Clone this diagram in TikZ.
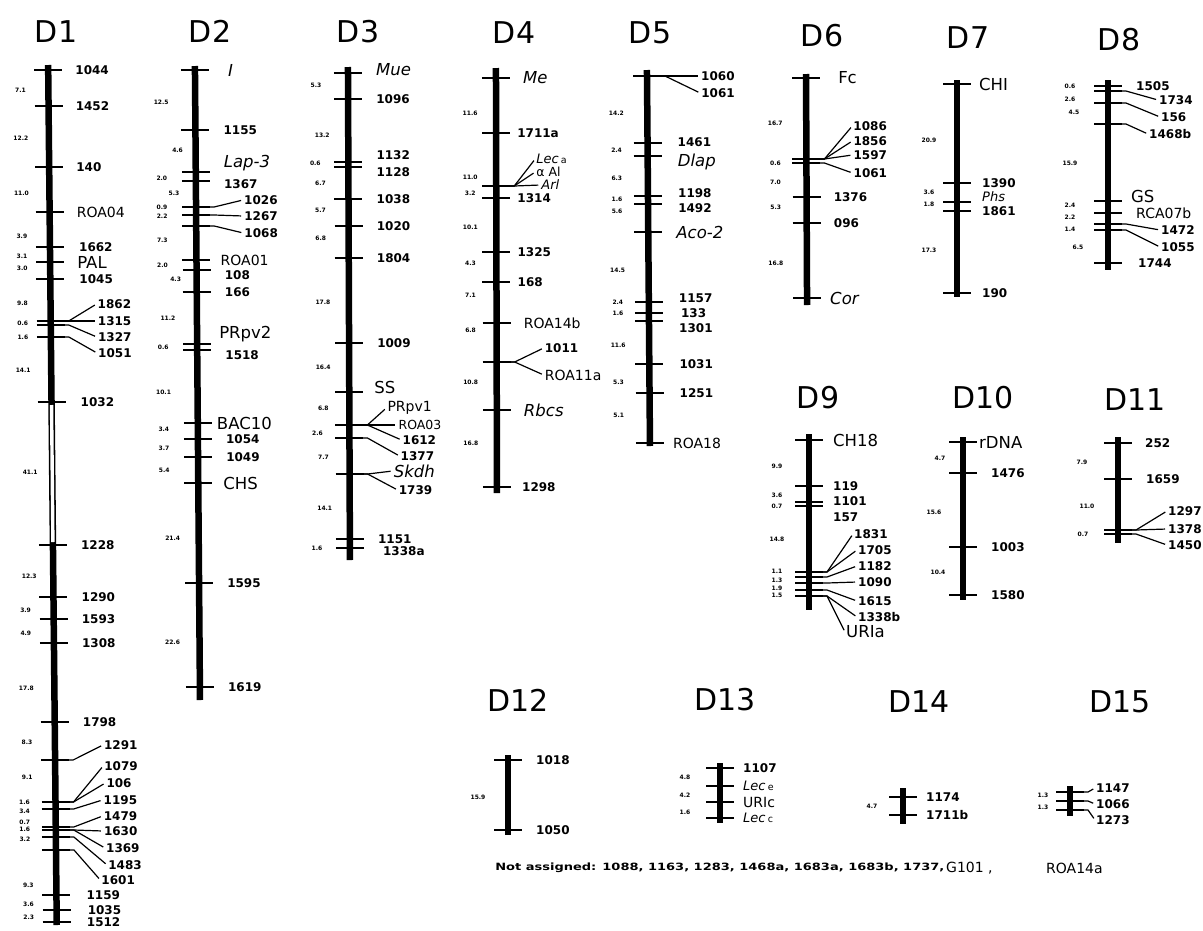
\documentclass[tikz,border=0pt]{standalone}
\usepackage{fontspec}
\setmainfont{DejaVu Sans}
\usepackage{tikz}
\usetikzlibrary{positioning}

% fonts of the map
\newcommand{\lblfont}{\fontsize{12}{12}\selectfont\bfseries}
\newcommand{\bigfont}{\fontsize{16.5}{16.5}\selectfont}
\newcommand{\roafont}{\fontsize{14}{14}\selectfont}
\newcommand{\smlfont}{\fontsize{12.5}{12.5}\selectfont}
\newcommand{\itfont}{\fontsize{16.5}{16.5}\selectfont\itshape}
\newcommand{\itsmfont}{\fontsize{13}{13}\selectfont\itshape}
\newcommand{\dstfont}{\fontsize{6}{6}\selectfont\bfseries}
\newcommand{\ttlfont}{\fontsize{30}{30}\selectfont}
\newcommand{\footfont}{\fontsize{10}{10}\selectfont\bfseries}
\newcommand{\subl}[1]{\,{\upshape\fontsize{9.5}{9.5}\selectfont #1}}

% helpers, used inside one linkage group scope
\def\lblx{25}
\def\dstx{-28}
\newcounter{dn}
\newcommand{\tk}[1]{\draw[tick] (-14,#1) -- (14,#1);}
\newcommand{\lb}[5][\lblx]{\node[#2] (#3) at (#1,#4) {#5};}
\newcommand{\mk}[5][\lblx]{\tk{#4}\lb[#1]{#2}{#3}{#4}{#5}}
\newcommand{\fan}[2]{\draw[fan] (10,#2) -- (18,#2) -- (#1.west);}
\newcommand{\dst}[3][\dstx]{\stepcounter{dn}\node[dst] (dst\thedn) at (#1,#2) {#3};}

\begin{document}
\begin{tikzpicture}[x=1pt, y=-1pt,
    bar/.style={line width=6.5pt},
    tick/.style={line width=1.8pt},
    fan/.style={line width=1.2pt, shorten >=2pt},
    lbl/.style={font=\lblfont, anchor=west, inner sep=1pt},
    big/.style={font=\bigfont, anchor=west, inner sep=1pt},
    roa/.style={font=\roafont, anchor=west, inner sep=1pt},
    sml/.style={font=\smlfont, anchor=west, inner sep=1pt},
    ital/.style={font=\itfont, anchor=west, inner sep=1pt},
    itsm/.style={font=\itsmfont, anchor=west, inner sep=1pt},
    dst/.style={font=\dstfont, inner sep=0pt},
    ttl/.style={font=\ttlfont, inner sep=0pt},
    foot/.style={font=\footfont, anchor=west, inner sep=0pt}
]
\path[fill=white, use as bounding box] (0,0) rectangle (1203,930);

% =========================
% TITLES
% =========================
\node[ttl] (D1) at (56,32) {D1};
\node[ttl] (D2) at (210,31) {D2};
\node[ttl] (D3) at (358,32) {D3};
\node[ttl] (D4) at (514,33) {D4};
\node[ttl] (D5) at (650,33) {D5};
\node[ttl] (D6) at (822,36) {D6};
\node[ttl] (D7) at (968,38) {D7};
\node[ttl] (D8) at (1119,40) {D8};
\node[ttl] (D9) at (818,398) {D9};
\node[ttl] (D10) at (983,398) {D10};
\node[ttl] (D11) at (1135,400) {D11};
\node[ttl] (D12) at (518,700) {D12};
\node[ttl] (D13) at (725,700) {D13};
\node[ttl] (D14) at (919,702) {D14};
\node[ttl] (D15) at (1120,702) {D15};

% =========================
% D1
% =========================
\begin{scope}[shift={(47.5,0)}, xslant=-0.01]
\def\lblx{26}\def\dstx{-28}
\draw[bar] (0,65) -- (0,925);
\draw[line width=3.4pt, white] (0,405) -- (0,542);
\mk{lbl}{d1-1044}{70}{1044}
\mk{lbl}{d1-1452}{106}{1452}
\mk{lbl}{d1-140}{167}{140}
\mk{roa}{d1-roa04}{212}{ROA04}
\mk[28]{lbl}{d1-1662}{247}{1662}
\mk{big}{d1-pal}{262}{PAL}
\mk[28]{lbl}{d1-1045}{279}{1045}
\tk{321}\tk{325}\tk{337}
\lb[46]{lbl}{d1-1862}{304}{1862}\fan{d1-1862}{321}
\lb[46]{lbl}{d1-1315}{321}{1315}\fan{d1-1315}{321}
\lb[46]{lbl}{d1-1327}{337}{1327}\fan{d1-1327}{325}
\lb[46]{lbl}{d1-1051}{353}{1051}\fan{d1-1051}{337}
\mk[28]{lbl}{d1-1032}{402}{1032}
\mk[27]{lbl}{d1-1228}{545}{1228}
\mk[27]{lbl}{d1-1290}{597}{1290}
\mk[27]{lbl}{d1-1593}{619}{1593}
\mk[27]{lbl}{d1-1308}{643}{1308}
\mk[27]{lbl}{d1-1798}{722}{1798}
\tk{760}
\lb[48]{lbl}{d1-1291}{745}{1291}\fan{d1-1291}{760}
\tk{802}\tk{809}\tk{827}\tk{830}\tk{837}\tk{850}
\lb[48]{lbl}{d1-1079}{766}{1079}\fan{d1-1079}{802}
\lb[50]{lbl}{d1-106}{783}{106}\fan{d1-106}{802}
\lb[47]{lbl}{d1-1195}{800}{1195}\fan{d1-1195}{809}
\lb[47]{lbl}{d1-1479}{816}{1479}\fan{d1-1479}{827}
\lb[47]{lbl}{d1-1630}{831}{1630}\fan{d1-1630}{830}
\lb[49]{lbl}{d1-1369}{848}{1369}\fan{d1-1369}{830}
\lb[51]{lbl}{d1-1483}{865}{1483}\fan{d1-1483}{837}
\lb[44]{lbl}{d1-1601}{880}{1601}\fan{d1-1601}{850}
\mk[29]{lbl}{d1-1159}{895}{1159}
\mk[30]{lbl}{d1-1035}{910}{1035}
\mk[29]{lbl}{d1-1512}{922}{1512}
\dst{90}{7.1}\dst{138}{12.2}\dst{193}{11.0}\dst{236}{3.9}\dst{256}{3.1}
\dst{268}{3.0}\dst{303}{9.8}\dst{323}{0.6}\dst{337}{1.6}\dst{370}{14.1}
\dst[-22]{472}{41.1}\dst[-24]{576}{12.3}\dst{610}{3.9}\dst{633}{4.9}
\dst{688}{17.8}\dst{742}{8.3}\dst{777}{9.1}\dst[-31]{802}{1.6}
\dst[-31]{811}{3.4}\dst[-31]{822}{0.7}\dst[-31]{829}{1.6}\dst[-31]{839}{3.2}
\dst{885}{9.3}\dst{904}{3.6}\dst{917}{2.3}
\end{scope}

% =========================
% D2
% =========================
\begin{scope}[shift={(194.4,0)}, xslant=-0.008]
\def\lblx{27}\def\dstx{-34}
\draw[bar] (0,66) -- (0,700);
\mk[32]{ital}{d2-i}{70}{I}
\mk{lbl}{d2-1155}{130}{1155}
\tk{172}\lb{ital}{d2-lap3}{163}{Lap-3}
\tk{181}\lb{lbl}{d2-1367}{184}{1367}
\tk{207}\tk{215}\tk{226}
\lb[47]{lbl}{d2-1026}{200}{1026}\fan{d2-1026}{207}
\lb[47]{lbl}{d2-1267}{216}{1267}\fan{d2-1267}{215}
\lb[47]{lbl}{d2-1068}{233}{1068}\fan{d2-1068}{226}
\mk[23]{roa}{d2-roa01}{260}{ROA01}
\tk{270}\lb{lbl}{d2-108}{275}{108}
\mk{lbl}{d2-166}{292}{166}
\tk{344}\tk{350}
\lb[21]{big}{d2-prpv2}{334}{PRpv2}
\lb{lbl}{d2-1518}{355}{1518}
\mk[18]{big}{d2-bac10}{423}{BAC10}
\mk{lbl}{d2-1054}{439}{1054}
\mk{lbl}{d2-1049}{457}{1049}
\mk[24]{big}{d2-chs}{483}{CHS}
\mk{lbl}{d2-1595}{583}{1595}
\mk{lbl}{d2-1619}{687}{1619}
\dst{102}{12.5}\dst[-18]{150}{4.6}\dst{178}{2.0}\dst[-22]{193}{5.3}
\dst{207}{0.9}\dst{216}{2.2}\dst{240}{7.3}\dst{265}{2.0}\dst[-21]{279}{4.3}
\dst[-29]{318}{11.2}\dst{347}{0.6}\dst{392}{10.1}\dst{429}{3.4}\dst{448}{3.7}
\dst{470}{5.4}\dst[-26]{538}{21.4}\dst[-27]{642}{22.6}
\end{scope}

% =========================
% D3
% =========================
\begin{scope}[shift={(347.7,0)}, xslant=-0.004]
\def\lblx{27}\def\dstx{-28}
\draw[bar] (0,67) -- (0,560);
\tk{73}\lb{ital}{d3-mue}{70}{Mue}
\mk{lbl}{d3-1096}{99}{1096}
\tk{162}\tk{167}
\lb{lbl}{d3-1132}{155}{1132}
\lb{lbl}{d3-1128}{172}{1128}
\mk{lbl}{d3-1038}{199}{1038}
\mk{lbl}{d3-1020}{226}{1020}
\mk{lbl}{d3-1804}{258}{1804}
\mk{lbl}{d3-1009}{343}{1009}
\tk{392}\lb[24]{big}{d3-ss}{387}{SS}
\tk{425}\tk{438}
\lb[37]{roa}{d3-prpv1}{408}{PRpv1}\fan{d3-prpv1}{425}
\lb[48]{sml}{d3-roa03}{425}{ROA03}\fan{d3-roa03}{425}
\lb[52]{lbl}{d3-1612}{440}{1612}\fan{d3-1612}{425}
\lb[50]{lbl}{d3-1377}{456}{1377}\fan{d3-1377}{438}
\tk{474}
\lb[43]{ital}{d3-skdh}{471}{Skdh}\fan{d3-skdh}{474}
\lb[48]{lbl}{d3-1739}{490}{1739}\fan{d3-1739}{474}
\mk{lbl}{d3-1151}{539}{1151}
\tk{548}\lb[32]{lbl}{d3-1338a}{551}{1338a}
\dst[-32]{85}{5.3}\dst[-26]{135}{13.2}\dst[-33]{163}{0.6}\dst{183}{6.7}
\dst{210}{5.7}\dst{238}{6.8}\dst[-26]{302}{17.8}\dst[-26]{367}{16.4}
\dst[-26]{408}{6.8}\dst[-32]{433}{2.6}\dst[-26]{457}{7.7}\dst[-25]{508}{14.1}
\dst[-33]{548}{1.6}
\end{scope}

% =========================
% D4
% =========================
\begin{scope}[shift={(495.8,0)}, xslant=-0.0024]
\def\lblx{20}\def\dstx{-26}
\draw[bar] (0,68) -- (0,493);
\mk[26]{ital}{d4-me}{78}{Me}
\mk{lbl}{d4-1711a}{133}{1711a}
\tk{186}
\lb[39]{itsm}{d4-leca}{159}{Lec\subl{a}}\fan{d4-leca}{186}
\lb[39]{sml}{d4-aal}{172}{α Al}\fan{d4-aal}{186}
\lb[44]{itsm}{d4-arl}{185}{Arl}\fan{d4-arl}{186}
\mk{lbl}{d4-1314}{198}{1314}
\mk{lbl}{d4-1325}{252}{1325}
\mk{lbl}{d4-168}{282}{168}
\mk[26]{roa}{d4-roa14b}{323}{ROA14b}
\tk{362}
\lb[47]{lbl}{d4-1011}{348}{1011}\fan{d4-1011}{362}
\lb[47]{roa}{d4-roa11a}{375}{ROA11a}\fan{d4-roa11a}{362}
\mk[26]{ital}{d4-rbcs}{410}{Rbcs}
\mk[24]{lbl}{d4-1298}{487}{1298}
\dst{113}{11.6}\dst{177}{11.0}\dst{193}{3.2}\dst{227}{10.1}\dst{263}{4.3}
\dst{295}{7.1}\dst{330}{6.8}\dst{382}{10.8}\dst{443}{16.8}
\end{scope}

% =========================
% D5
% =========================
\begin{scope}[shift={(646.4,0)}, xslant=-0.008]
\def\lblx{29}\def\dstx{-31}
\draw[bar] (0,70) -- (0,446);
\tk{76}
\lb[53]{lbl}{d5-1060}{76}{1060}\fan{d5-1060}{76}
\lb[53]{lbl}{d5-1061}{93}{1061}\fan{d5-1061}{76}
\tk{143}\lb{lbl}{d5-1461}{142}{1461}
\tk{156}\lb{ital}{d5-dlap}{162}{Dlap}
\tk{196}\lb{lbl}{d5-1198}{193}{1198}
\tk{204}\lb{lbl}{d5-1492}{208}{1492}
\mk[27]{ital}{d5-aco2}{232}{Aco-2}
\tk{302}\lb{lbl}{d5-1157}{298}{1157}
\mk[31]{lbl}{d5-133}{313}{133}
\tk{321}\lb{lbl}{d5-1301}{328}{1301}
\mk{lbl}{d5-1031}{364}{1031}
\mk{lbl}{d5-1251}{393}{1251}
\mk[22]{roa}{d5-roa18}{443}{ROA18}
\dst{113}{14.2}\dst{150}{2.4}\dst{178}{6.3}\dst{199}{1.6}\dst{211}{5.6}
\dst{270}{14.5}\dst{302}{2.4}\dst{313}{1.6}\dst{345}{11.6}\dst{382}{5.3}
\dst{415}{5.1}
\end{scope}

% =========================
% D6
% =========================
\begin{scope}[shift={(805.7,0)}, xslant=-0.0045]
\def\lblx{26}\def\dstx{-31}
\draw[bar] (0,74) -- (0,305);
\mk[31]{big}{d6-fc}{78}{Fc}
\tk{159}\tk{163}
\lb[46]{lbl}{d6-1086}{126}{1086}\fan{d6-1086}{159}
\lb[46]{lbl}{d6-1856}{141}{1856}\fan{d6-1856}{159}
\lb[46]{lbl}{d6-1597}{155}{1597}\fan{d6-1597}{159}
\lb[46]{lbl}{d6-1061}{173}{1061}\fan{d6-1061}{163}
\mk{lbl}{d6-1376}{197}{1376}
\mk{lbl}{d6-096}{223}{096}
\mk[22]{ital}{d6-cor}{298}{Cor}
\dst{123}{16.7}\dst{163}{0.6}\dst{182}{7.0}\dst{207}{5.3}\dst{263}{16.8}
\end{scope}

% =========================
% D7
% =========================
\begin{scope}[shift={(957,0)}]
\def\lblx{24}\def\dstx{-28}
\draw[bar] (0,80) -- (0,297);
\mk[21]{big}{d7-chi}{84}{CHI}
\mk{lbl}{d7-1390}{183}{1390}
\tk{202}\lb{itsm}{d7-phs}{197}{Phs}
\tk{211}\lb{lbl}{d7-1861}{211}{1861}
\mk{lbl}{d7-190}{293}{190}
\dst{140}{20.9}\dst{192}{3.6}\dst{204}{1.8}\dst{250}{17.3}
\end{scope}

% =========================
% D8
% =========================
\begin{scope}[shift={(1108,0)}]
\def\lblx{27}\def\dstx{-38}
\draw[bar] (0,80) -- (0,270);
\tk{86}\tk{91}\tk{103}\tk{124}
\lb{lbl}{d8-1505}{86}{1505}
\lb[50]{lbl}{d8-1734}{100}{1734}\fan{d8-1734}{91}
\lb[52]{lbl}{d8-156}{117}{156}\fan{d8-156}{103}
\lb[40]{lbl}{d8-1468b}{134}{1468b}\fan{d8-1468b}{124}
\tk{201}\lb[22]{big}{d8-gs}{196}{GS}
\mk{roa}{d8-rca07b}{213}{RCA07b}
\tk{224}\tk{230}
\lb[52]{lbl}{d8-1472}{230}{1472}\fan{d8-1472}{224}
\lb[52]{lbl}{d8-1055}{247}{1055}\fan{d8-1055}{230}
\mk[29]{lbl}{d8-1744}{263}{1744}
\dst{86}{0.6}\dst{99}{2.6}\dst[-34]{112}{4.5}\dst{163}{15.9}\dst{205}{2.4}
\dst{217}{2.2}\dst{229}{1.4}\dst[-30]{247}{6.5}
\end{scope}

% =========================
% D9
% =========================
\begin{scope}[shift={(809,0)}]
\def\lblx{23}\def\dstx{-32}
\draw[bar] (0,434) -- (0,610);
\mk{big}{d9-ch18}{440}{CH18}
\mk{lbl}{d9-119}{486}{119}
\tk{502}\tk{506}
\lb{lbl}{d9-1101}{501}{1101}
\lb{lbl}{d9-157}{517}{157}
\tk{572}\tk{577}\tk{583}\tk{590}\tk{596}
\lb[44]{lbl}{d9-1831}{534}{1831}\fan{d9-1831}{572}
\lb[48]{lbl}{d9-1705}{550}{1705}\fan{d9-1705}{572}
\lb[48]{lbl}{d9-1182}{566}{1182}\fan{d9-1182}{577}
\lb[48]{lbl}{d9-1090}{582}{1090}\fan{d9-1090}{583}
\lb[48]{lbl}{d9-1615}{601}{1615}\fan{d9-1615}{590}
\lb[48]{lbl}{d9-1338b}{617}{1338b}\fan{d9-1338b}{596}
\lb[36]{big}{d9-uria}{632}{URIa}\fan{d9-uria}{596}
\dst{466}{9.9}\dst{495}{3.6}\dst{506}{0.7}\dst{539}{14.8}\dst{571}{1.1}
\dst{580}{1.3}\dst{588}{1.9}\dst{595}{1.5}
\end{scope}

% =========================
% D10
% =========================
\begin{scope}[shift={(963,0)}]
\def\lblx{27}\def\dstx{-26}
\draw[bar] (0,437) -- (0,600);
\mk[15]{big}{d10-rdna}{442}{rDNA}
\mk{lbl}{d10-1476}{473}{1476}
\mk{lbl}{d10-1003}{547}{1003}
\mk{lbl}{d10-1580}{595}{1580}
\dst[-23]{458}{4.7}\dst[-29]{512}{15.6}\dst[-25]{572}{10.4}
\end{scope}

% =========================
% D11
% =========================
\begin{scope}[shift={(1118,0)}]
\def\lblx{26}\def\dstx{-34}
\draw[bar] (0,437) -- (0,543);
\mk{lbl}{d11-252}{443}{252}
\mk[27]{lbl}{d11-1659}{479}{1659}
\tk{530}\tk{534}
\lb[49]{lbl}{d11-1297}{511}{1297}\fan{d11-1297}{530}
\lb[49]{lbl}{d11-1378}{529}{1378}\fan{d11-1378}{530}
\lb[49]{lbl}{d11-1450}{545}{1450}\fan{d11-1450}{534}
\dst[-36]{462}{7.9}\dst[-31]{506}{11.0}\dst[-35]{534}{0.7}
\end{scope}

% =========================
% D12 -- D15
% =========================
\begin{scope}[shift={(508,0)}]
\def\lblx{27}\def\dstx{-30}
\draw[bar] (0,755) -- (0,835);
\mk{lbl}{d12-1018}{760}{1018}
\mk{lbl}{d12-1050}{830}{1050}
\dst{797}{15.9}
\end{scope}

\begin{scope}[shift={(720,0)}]
\def\lblx{22}\def\dstx{-35}
\draw[bar] (0,763) -- (0,823);
\mk{lbl}{d13-1107}{768}{1107}
\mk{itsm}{d13-lece}{786}{Lec\subl{e}}
\mk{roa}{d13-uric}{802}{URIc}
\mk{itsm}{d13-lecc}{818}{Lec\subl{c}}
\dst{777}{4.8}\dst{795}{4.2}\dst{812}{1.6}
\end{scope}

\begin{scope}[shift={(903,0)}]
\def\lblx{22}\def\dstx{-31}
\draw[bar] (0,788) -- (0,824);
\mk{lbl}{d14-1174}{797}{1174}
\mk{lbl}{d14-1711b}{815}{1711b}
\dst{806}{4.7}
\end{scope}

\begin{scope}[shift={(1070,0)}]
\def\lblx{25}\def\dstx{-27}
\draw[bar] (0,786) -- (0,816);
\tk{792}\tk{801}\tk{810}
\lb{lbl}{d15-1147}{788}{1147}\fan{d15-1147}{792}
\lb{lbl}{d15-1066}{804}{1066}\fan{d15-1066}{801}
\lb{lbl}{d15-1273}{820}{1273}\fan{d15-1273}{810}
\dst{795}{1.3}\dst{807}{1.3}
\end{scope}

% =========================
% NOT ASSIGNED
% =========================
\node[foot, xscale=1.3, transform shape] (unassigned) at (495,868)
 {Not assigned: 1088, 1163, 1283, 1468a, 1683a, 1683b, 1737,};
\node[roa, inner sep=0pt] (g101) at (946,868) {G101 ,};
\node[roa, inner sep=0pt] (roa14a) at (1046,868) {ROA14a};

\end{tikzpicture}
\end{document}
